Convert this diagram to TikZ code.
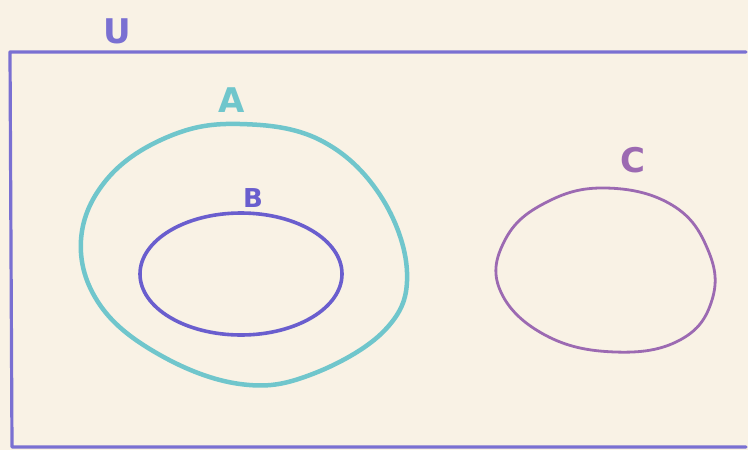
\documentclass[tikz,border=0pt]{standalone}
\usepackage{fontspec}
\setmainfont{DejaVu Sans}
\definecolor{paper}{HTML}{F9F2E5}
\definecolor{frame}{HTML}{7A70D2}
\definecolor{setA}{HTML}{70C6CC}
\definecolor{setB}{HTML}{6A5ECE}
\definecolor{setC}{HTML}{9C6AB2}
\begin{document}
\begin{tikzpicture}[x=1pt,y=-1pt,
  lbl/.style={inner sep=0pt,font=\fontsize{34}{34}\selectfont\bfseries},
  pencil/.style={line cap=round,line join=round}]
\useasboundingbox (0,0) rectangle (748,450);
\fill[paper] (0,0) rectangle (748,450);
% universe
\draw[frame,line width=3.2pt,pencil] (746,52) -- (10,52) -- (12,447) -- (746,447);
\node[lbl,text=frame] (U) at (117,31) {U};
% A
\draw[setA,line width=4.5pt,pencil] plot[smooth cycle,tension=0.65] coordinates {
 (240,124) (320,140) (380,195) (407,272) (385,330) (310,375) (240,384)
 (160,355) (100,305) (81,240) (108,178) (170,136)};
\node[lbl,text=setA] (A) at (232,100) {A};
% B
\draw[setB,line width=3.6pt,pencil] (241,274) ellipse [x radius=101,y radius=61];
\node[lbl,text=setB,font=\fontsize{26}{26}\selectfont\bfseries] (B) at (253,198) {B};
% C
\draw[setC,line width=2.8pt,pencil] plot[smooth cycle,tension=0.7] coordinates {
 (605,188) (672,205) (708,250) (712,300) (680,340) (615,352) (545,335)
 (500,290) (505,240) (545,203)};
\node[lbl,text=setC] (C) at (633,160) {C};
\end{tikzpicture}
\end{document}
